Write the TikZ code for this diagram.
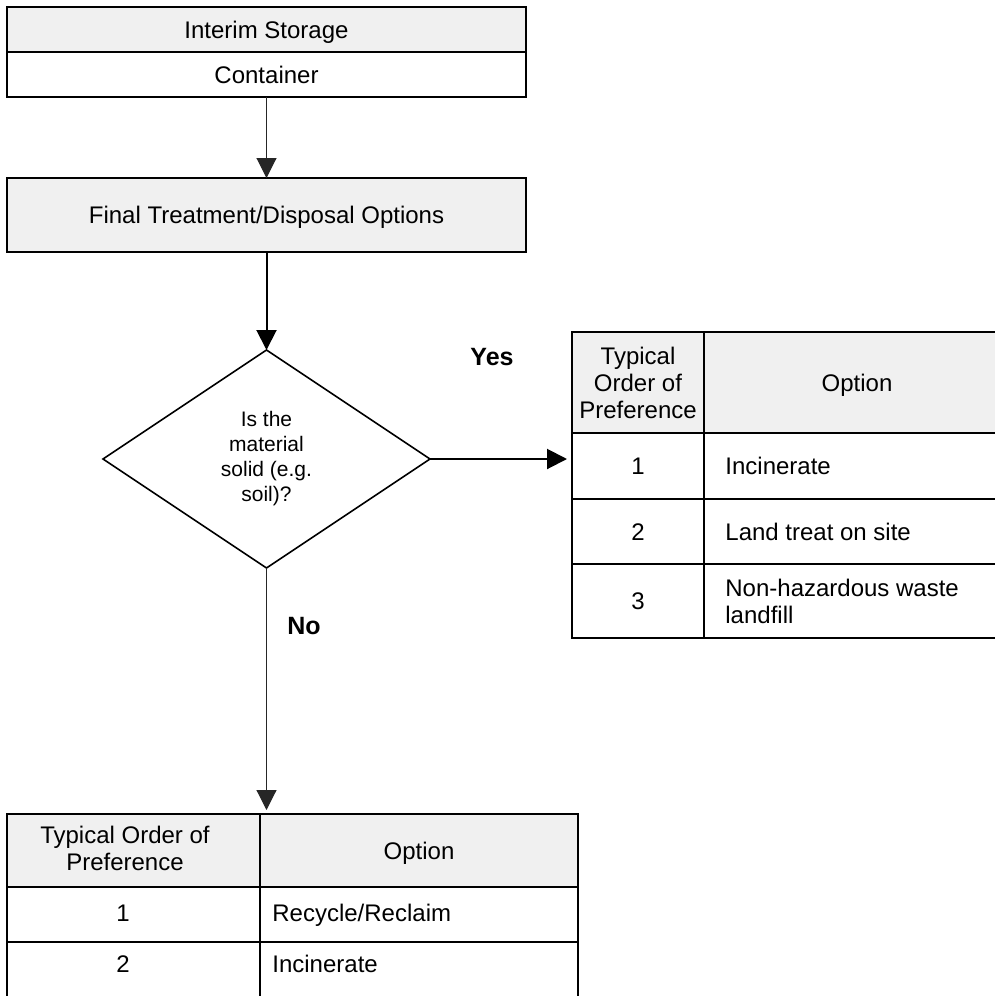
\documentclass[tikz,border=0pt]{standalone}
\usepackage{fontspec}
\setmainfont{Liberation Sans}
\usetikzlibrary{shapes.geometric,arrows.meta}
\definecolor{hdr}{HTML}{F0F0F0}
\begin{document}
\begin{tikzpicture}[x=0.5pt,y=-0.5pt,
  cell/.style={rectangle,draw,line width=1pt,inner sep=0pt,outer sep=0pt,
    font=\fontsize{12}{13.5}\selectfont,text height=8.6pt,text depth=0pt},
  headcell/.style={cell,fill=hdr},
  multi/.style={align=center,text height=,text depth=},
  txt/.style={inner sep=0pt,font=\fontsize{12}{13.5}\selectfont,
    text height=8.6pt,text depth=0pt},
  txtmulti/.style={inner sep=0pt,font=\fontsize{12}{13.5}\selectfont},
  tip/.style={-{Triangle[width=10pt,length=10pt]}},
  thinarrow/.style={tip,line width=0.55pt,draw=black!85},
  thickarrow/.style={tip,line width=1pt},
  answer/.style={inner sep=0pt,font=\bfseries\fontsize{12.5}{14}\selectfont}
]
\useasboundingbox (0,0) rectangle (995,996);

% --- storage and disposal boxes ---
\node[headcell,minimum width=259.5pt,minimum height=22.5pt] (store) at (266.5,29.5) {Interim Storage};
\node[cell,minimum width=259.5pt,minimum height=22.5pt] (cont) at (266.5,74.5) {Container};
\node[headcell,minimum width=259.5pt,minimum height=37pt] (fin) at (266.5,215) {Final Treatment/Disposal Options};

% --- decision ---
\node[diamond,draw,line width=0.8pt,inner sep=0pt,outer sep=0pt,aspect=1.5,
  minimum width=163.5pt,minimum height=109pt,align=center,
  font=\fontsize{10.5}{12.5}\selectfont] (dia) at (266.5,459)
  {Is the\\material\\solid (e.g.\\soil)?};

% --- table for solid material ---
\node[headcell,minimum width=66pt,minimum height=50.5pt] (a11) at (638,382.5) {};
\node[txtmulti,align=center] (a11t) at (a11.center) {Typical\\Order of\\Preference};
\node[headcell,minimum width=153pt,minimum height=50.5pt] (a12) at (857,382.5) {Option};
\node[cell,minimum width=66pt,minimum height=33pt] (a21) at (638,466) {1};
\node[cell,minimum width=153pt,minimum height=33pt] (a22) at (857,466) {};
\node[txt,anchor=west] (a22t) at (725,466) {Incinerate};
\node[cell,minimum width=66pt,minimum height=32.5pt] (a31) at (638,531.5) {2};
\node[cell,minimum width=153pt,minimum height=32.5pt] (a32) at (857,531.5) {};
\node[txt,anchor=west] (a32t) at (725,531.5) {Land treat on site};
\node[cell,minimum width=66pt,minimum height=37pt] (a41) at (638,601) {3};
\node[cell,minimum width=153pt,minimum height=37pt] (a42) at (857,601) {};
\node[txtmulti,align=left,anchor=west] (a42t) at (725,601.5) {Non-hazardous waste\\landfill};

% --- table for other material ---
\node[headcell,minimum width=126.5pt,minimum height=36.5pt] (b11) at (133.5,850.5) {};
\node[txtmulti,align=center] (b11t) at (125,848) {Typical Order of\\Preference};
\node[headcell,minimum width=159pt,minimum height=36.5pt] (b12) at (419,850.5) {Option};
\node[cell,minimum width=126.5pt,minimum height=27.5pt] (b21) at (133.5,914.5) {};
\node[txt] (b21t) at (123,913) {1};
\node[cell,minimum width=159pt,minimum height=27.5pt] (b22) at (419,914.5) {};
\node[txt,anchor=west] (b22t) at (272,913) {Recycle/Reclaim};
\node[cell,minimum width=126.5pt,minimum height=34pt] (b31) at (133.5,976) {};
\node[txt] (b31t) at (123,964) {2};
\node[cell,minimum width=159pt,minimum height=34pt] (b32) at (419,976) {};
\node[txt,anchor=west] (b32t) at (272,964) {Incinerate};

% --- branch labels ---
\node[answer] (yes) at (492,357) {Yes};
\node[answer] (no) at (304,626) {No};

% --- connectors ---
\draw[thinarrow] (cont.south) -- (fin.north);
\draw[thickarrow] (fin.south) -- (dia.north);
\draw[thickarrow,shorten >=2.5pt] (dia.east) -- (dia.east -| a21.west);
\draw[thinarrow,shorten >=2pt] (dia.south) -- (dia.south |- b12.north);
\end{tikzpicture}
\end{document}
